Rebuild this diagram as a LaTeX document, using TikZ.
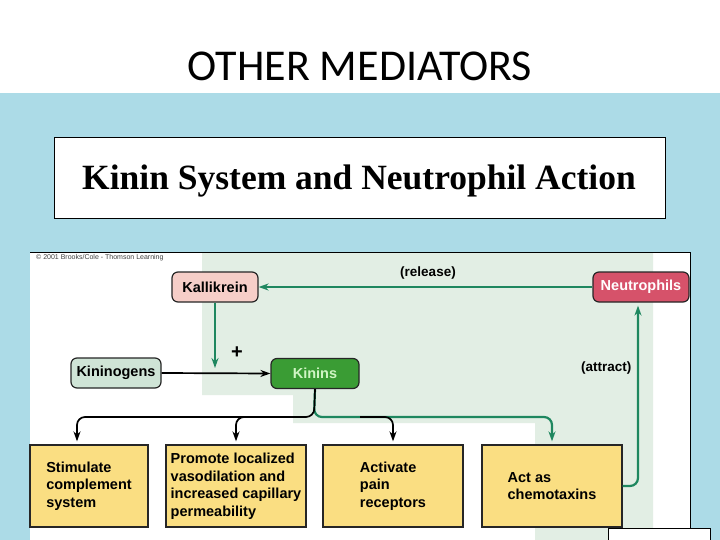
\documentclass[tikz,border=0pt]{standalone}
\usepackage{fontspec}
\setmainfont{Liberation Sans}
\newfontfamily\slidefont{Carlito}
\newfontfamily\headfont{Liberation Serif}
\usetikzlibrary{arrows.meta,calc}
\definecolor{sky}{RGB}{172,219,231}
\definecolor{palegreen}{RGB}{226,238,228}
\definecolor{kalfill}{RGB}{246,206,200}
\definecolor{neufill}{RGB}{214,82,106}
\definecolor{kngfill}{RGB}{207,228,214}
\definecolor{kinfill}{RGB}{58,156,52}
\definecolor{kintext}{RGB}{208,245,196}
\definecolor{note}{RGB}{250,222,130}
\definecolor{teal}{RGB}{30,135,95}

\begin{document}
\begin{tikzpicture}[
    x=1pt,
    y=-1pt,
    >={Stealth[length=10pt,width=7pt]},
    pill/.style={draw=black!85, line width=1.2pt, rounded corners=6pt, minimum height=30pt, inner sep=2pt, font=\bfseries\fontsize{14.5}{17}\selectfont},
    effect/.style={draw=black!85, line width=1.2pt, fill=note, minimum width=140pt, minimum height=82pt, align=left, inner sep=2pt, font=\bfseries\fontsize{14.5}{17.5}\selectfont},
    link/.style={->, line width=1.7pt, black},
    glink/.style={->, line width=2.2pt, teal},
    lbl/.style={font=\bfseries\fontsize{13.5}{15}\selectfont}
]
\useasboundingbox (0,0) rectangle (720,540);
\fill[white] (0,0) rectangle (720,93);
\fill[sky] (0,93) rectangle (720,540);

\node[font=\slidefont\fontsize{44}{50}\selectfont, anchor=base] (title) at (360,81) {OTHER MEDIATORS};

\node[draw=black, line width=1pt, fill=white, minimum width=611pt, minimum height=81pt] (headbox) at (359.5,178.5) {};
\node[font=\headfont\bfseries\fontsize{35.5}{40}\selectfont, anchor=base] (head) at (359,190) {Kinin System and Neutrophil Action};

\fill[white] (30,252) rectangle (690,540);
\fill[palegreen] (202,252) -- (653,252) -- (653,540) -- (535,540) -- (535,423) -- (293,423) -- (293,395) -- (202,395) -- cycle;
\draw[black, line width=1pt] (30,252) -- (690,252) -- (690,540);
\node[anchor=west, font=\fontsize{7}{8}\selectfont, text=black!75, inner sep=0pt] (copy) at (36,258) {\textcopyright{} 2001 Brooks/Cole - Thomson Learning};

\node[pill, fill=kalfill, minimum width=86pt] (kal) at (215,287) {Kallikrein};
\node[pill, fill=neufill, text=white, minimum width=96pt] (neu) at (641,287) {Neutrophils};
\node[pill, fill=kngfill, minimum width=90pt] (kng) at (116,373) {Kininogens};
\node[pill, fill=kinfill, text=kintext, minimum width=88pt] (kin) at (315,373.5) {Kinins};

\node[effect, minimum width=118pt] (b1) at (89,486) {Stimulate\\complement\\system};
\node[effect] (b2) at (236,486) {Promote localized\\vasodilation and\\increased capillary\\permeability};
\node[effect] (b3) at (393,486) {Activate\\pain\\receptors};
\node[effect] (b4) at (552,486) {Act as\\chemotaxins};

\node[lbl] (rel) at (428,273) {(release)};
\node[lbl, anchor=east] (att) at (635,368) {(attract)};
\node[font=\bfseries\fontsize{20}{20}\selectfont] (plus) at (237,353) {+};

\coordinate (kmeet) at (215,368);
\coordinate (fork) at (314,417);
\coordinate (lbr) at (280,417);
\coordinate (rbr) at (360,417);

\draw[glink] (neu.west) -- (kal.east);
\draw[glink] (kal.south) -- (kmeet);
\draw[link] (kng.east) -- (kin.west);

\draw[glink, rounded corners=8pt] (kin.south) -- (fork) -| ([yshift=3pt]b4.north);
\draw[link, rounded corners=8pt] (kin.south) -- (fork) -| ([xshift=-12pt,yshift=3pt]b1.north);
\draw[link, rounded corners=8pt] (lbr) -| ([yshift=3pt]b2.north);
\draw[link, rounded corners=8pt] (rbr) -| ([yshift=3pt]b3.north);
\draw[glink, rounded corners=8pt] (b4.east) -| ([xshift=-3pt,yshift=-3pt]neu.south);

\draw[black, line width=1pt, fill=white] (608,528) rectangle (710,545);
\end{tikzpicture}
\end{document}
